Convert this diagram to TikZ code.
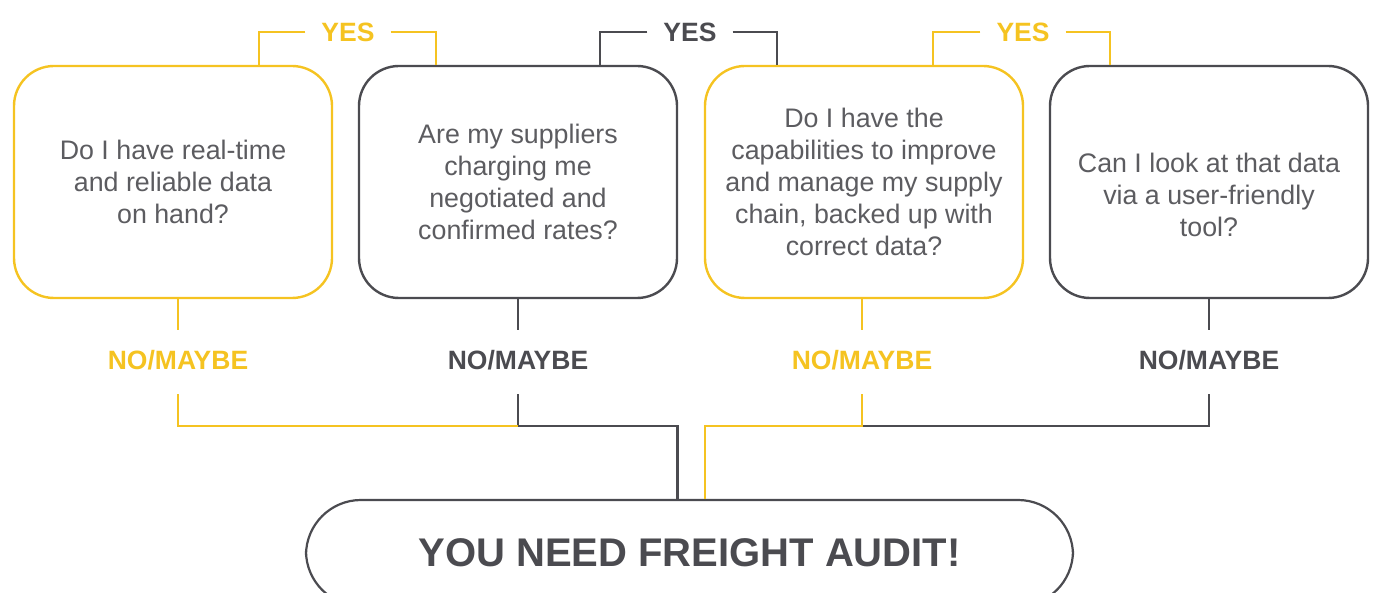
\documentclass[tikz,border=0pt]{standalone}
\usepackage{fontspec}
\setmainfont{Liberation Sans}
\definecolor{yel}{HTML}{F5C321}
\definecolor{gry}{HTML}{4B4B50}
\definecolor{txt}{HTML}{5C5C60}
\begin{document}
\begin{tikzpicture}[x=1pt,y=-1pt,
  qbox/.style={draw, line width=2.4pt, rounded corners=40pt, minimum width=318pt, minimum height=232pt, inner sep=0pt},
  qtext/.style={inner sep=0pt, align=center, text=txt, font=\fontsize{26.8}{32}\selectfont},
  ybox/.style={qbox, draw=yel},
  gbox/.style={qbox, draw=gry},
  lbl/.style={inner sep=0pt, font=\fontsize{26.5}{30}\selectfont\bfseries},
  yl/.style={draw=yel, line width=2.2pt},
  gl/.style={draw=gry, line width=2.2pt}]
\useasboundingbox (0,0) rectangle (1378,593);
\clip (0,0) rectangle (1378,593);
% question boxes
\node[ybox] (b1) at (173,182) {};
\node[gbox] (b2) at (518,182) {};
\node[ybox] (b3) at (864,182) {};
\node[gbox] (b4) at (1209,182) {};
\node[qtext] (t1) at (b1) {Do I have real-time\\and reliable data\\on hand?};
\node[qtext] (t2) at (b2) {Are my suppliers\\charging me\\negotiated and\\confirmed rates?};
\node[qtext] (t3) at (b3) {Do I have the\\capabilities to improve\\and manage my supply\\chain, backed up with\\correct data?};
\node[qtext] (t4) at (1209,195) {Can I look at that data\\via a user-friendly\\tool?};
% YES labels
\node[lbl, text=yel] (y1) at (348,32) {YES};
\node[lbl, text=gry] (y2) at (690,32) {YES};
\node[lbl, text=yel] (y3) at (1023,32) {YES};
\draw[yl] ([xshift=-16pt]y1.west) -| ([xshift=246pt]b1.north west);
\draw[yl] ([xshift=16pt]y1.east) -| ([xshift=78pt]b2.north west);
\draw[gl] ([xshift=-16pt]y2.west) -| ([xshift=242pt]b2.north west);
\draw[gl] ([xshift=16pt]y2.east) -| ([xshift=73pt]b3.north west);
\draw[yl] ([xshift=-16pt]y3.west) -| ([xshift=229pt]b3.north west);
\draw[yl] ([xshift=16pt]y3.east) -| ([xshift=61pt]b4.north west);
% NO/MAYBE labels
\node[lbl, text=yel] (n1) at (178,360) {NO/MAYBE};
\node[lbl, text=gry] (n2) at (518,360) {NO/MAYBE};
\node[lbl, text=yel] (n3) at (862,360) {NO/MAYBE};
\node[lbl, text=gry] (n4) at (1209,360) {NO/MAYBE};
\draw[yl] (b1.south -| n1.center) -- (n1.center |- 0,330);
\draw[gl] (b2.south -| n2.center) -- (n2.center |- 0,330);
\draw[yl] (b3.south -| n3.center) -- (n3.center |- 0,330);
\draw[gl] (b4.south -| n4.center) -- (n4.center |- 0,330);
% result box
\node[draw=gry, line width=2.2pt, rounded corners=55pt, minimum width=767pt, minimum height=106pt, inner sep=0pt,
  text=gry, font=\fontsize{40}{44}\selectfont\bfseries] (r) at (689.5,553) {YOU NEED FREIGHT AUDIT!};
% collecting lines
\coordinate (j1) at (518,426);
\coordinate (j3) at (862,426);
\draw[gl] (n4.center |- 0,394) -- (n4.center |- j3) -- (j3);
\draw[gl] (n2.center |- 0,394) -- (j1) -| ([xshift=-12pt]r.north);
\draw[yl] (n1.center |- 0,394) -- (n1.center |- j1) -- (j1);
\draw[yl] (n3.center |- 0,394) -- (j3) -| ([xshift=15.5pt]r.north);
\end{tikzpicture}
\end{document}
